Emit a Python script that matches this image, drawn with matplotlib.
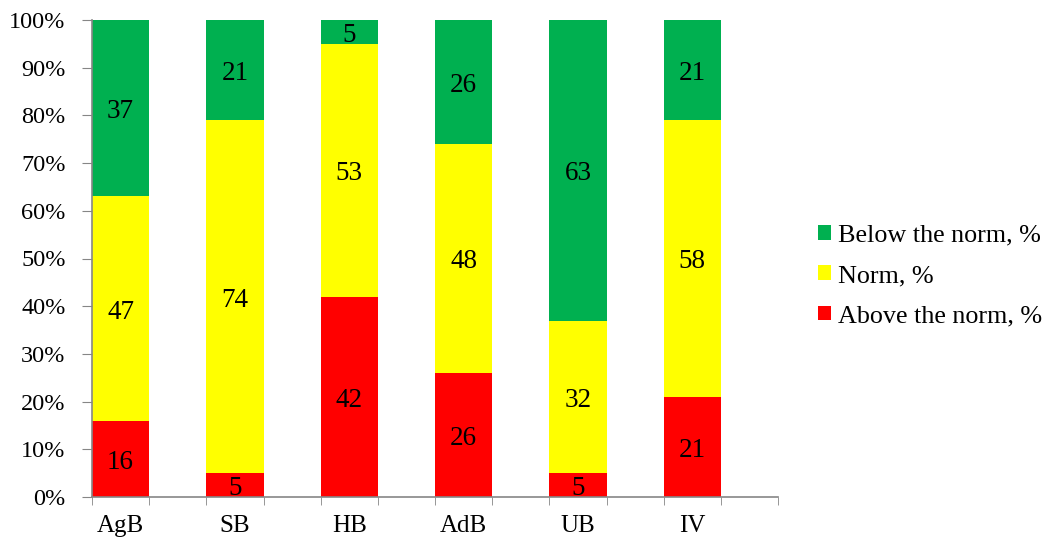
import matplotlib
matplotlib.use("Agg")
import matplotlib.pyplot as plt
import numpy as np

categories = ["AgB", "SB", "HB", "AdB", "UB", "IV"]
above = [16, 5, 42, 26, 5, 21]
norm = [47, 74, 53, 48, 32, 58]
below = [37, 21, 5, 26, 63, 21]
series_names = ["Above the norm, %", "Norm, %", "Below the norm, %"]
colors = ["#FF0000", "#FFFF00", "#00B050"]

plt.rcParams['font.family'] = ['Liberation Serif', 'DejaVu Serif']

fig = plt.figure(figsize=(10.48, 5.44), dpi=100)
ax = fig.add_axes([92/1048, 1-497/544, (778-92)/1048, (497-20)/544])

x = np.arange(len(categories)) * 2
bottom = np.zeros(len(categories))
handles = []
tot = np.array(above) + np.array(norm) + np.array(below)
for vals, name, col in zip([above, norm, below], series_names, colors):
    v = np.array(vals, dtype=float)
    frac = v / tot
    b = ax.bar(x, frac, width=1.0, bottom=bottom, color=col, label=name, linewidth=0)
    handles.append(b)
    for xi, bi, fi, vi in zip(x, bottom, frac, vals):
        ax.annotate(str(vi), (xi, bi + fi/2), xytext=(0, -2.5), textcoords='offset points',
                    ha='center', va='center', fontsize=19.5)
    bottom += frac

ax.set_xlim(-0.5, 11.5)
ax.set_ylim(0, 1)
ax.set_yticks(np.linspace(0, 1, 11))
ax.set_yticklabels([f"{int(round(t*100))}%" for t in np.linspace(0, 1, 11)], fontsize=17.5)
ax.set_xticks(x)
ax.set_xticklabels(categories, fontsize=18)
ax.set_xticks(np.arange(-0.5, 12, 1), minor=True)
ax.tick_params(axis='x', which='major', length=0, pad=13)
ax.tick_params(axis='x', which='minor', length=6, color='#868686', direction='out')
ax.tick_params(axis='y', length=7, color='#868686', direction='out', pad=12)
for s in ['top', 'right']:
    ax.spines[s].set_visible(False)
for s in ['left', 'bottom']:
    ax.spines[s].set_color('#868686')
    ax.spines[s].set_linewidth(1.2)

fig.legend(handles[::-1], series_names[::-1], loc='center left',
           bbox_to_anchor=(794/1048, 1-276/544), frameon=False, fontsize=18.8,
           handlelength=0.5, handleheight=0.5, handletextpad=0.3, labelspacing=0.7)

fig.savefig("out.png", dpi=100)
